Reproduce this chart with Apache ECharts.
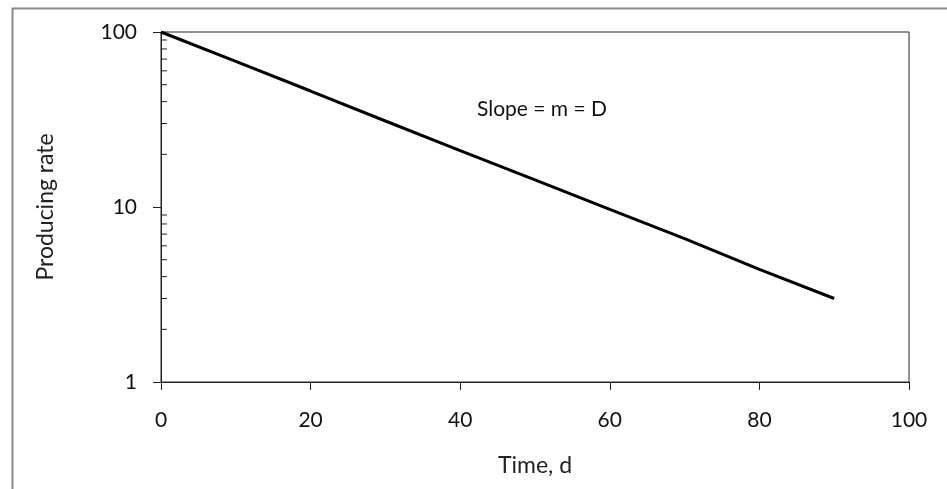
<!DOCTYPE html>
<html>
<head>
<meta charset="utf-8">
<script src="https://cdn.jsdelivr.net/npm/echarts@6/dist/echarts.min.js"></script>
<style>
  html, body { margin: 0; padding: 0; background: #fff; }
  #chart { width: 947px; height: 489px; }
</style>
</head>
<body>
<div id="chart"></div>
<script>
// time in days and producing rate
const days = [0, 10, 20, 30, 40, 50, 60, 70, 80, 90];
const rates = [100, 68, 46, 31, 21, 14.3, 9.7, 6.6, 4.4, 3.0];

// log axis minor ticks (2..9, 20..90)
const minorTicks = [2, 3, 4, 5, 6, 7, 8, 9, 20, 30, 40, 50, 60, 70, 80, 90];

const chart = echarts.init(document.getElementById('chart'));

const sans = 'Lato, "Open Sans", sans-serif';

const option = {
    animation: false,
    backgroundColor: '#fff',
    grid: {
        left: 161,
        right: 38,
        top: 32,
        bottom: 107,
        show: true,
        borderColor: '#222',
        borderWidth: 1
    },
    graphic: [
        {
            // outer frame of the figure
            type: 'rect',
            left: 10,
            top: 6,
            shape: { width: 1000, height: 1000 },
            style: { fill: 'none', stroke: '#8a8a8a', lineWidth: 2 },
            silent: true
        },
        {
            type: 'text',
            left: 477,
            top: 99,
            style: {
                text: 'Slope = m = D',
                font: '21px ' + sans,
                fill: '#111'
            }
        }
    ],
    xAxis: {
        type: 'value',
        min: 0,
        max: 100,
        interval: 20,
        name: 'Time, d',
        nameLocation: 'middle',
        nameGap: 72,
        nameTextStyle: { fontFamily: sans, fontSize: 23, color: '#222' },
        axisLine: { show: true, onZero: false, lineStyle: { color: '#222', width: 1 } },
        axisTick: { show: true, inside: false, length: 8, lineStyle: { color: '#222' } },
        axisLabel: { margin: 28, fontFamily: sans, fontSize: 21, color: '#111' },
        splitLine: { show: false }
    },
    yAxis: {
        type: 'log',
        logBase: 10,
        min: 1,
        max: 100,
        name: 'Producing rate',
        nameLocation: 'middle',
        nameGap: 104,
        nameTextStyle: { fontFamily: sans, fontSize: 23, color: '#222' },
        axisLine: { show: true, lineStyle: { color: '#222', width: 1 } },
        axisTick: { show: true, inside: false, length: 8, lineStyle: { color: '#222' } },
        axisLabel: { margin: 24, fontFamily: sans, fontSize: 21, color: '#111' },
        splitLine: { show: false },
        minorTick: { show: false }
    },
    series: [
        {
            type: 'custom',
            silent: true,
            z: 1,
            data: minorTicks.map(v => [0, v]),
            renderItem: function (params, api) {
                const p = api.coord([0, api.value(1)]);
                return {
                    type: 'line',
                    shape: { x1: p[0], y1: p[1], x2: p[0] + 6, y2: p[1] },
                    style: { stroke: '#222', lineWidth: 1 }
                };
            }
        },
        {
            type: 'line',
            data: days.map((d, i) => [d, rates[i]]),
            showSymbol: false,
            z: 3,
            lineStyle: { color: '#000', width: 3 }
        }
    ]
};

chart.setOption(option);
</script>
</body>
</html>
